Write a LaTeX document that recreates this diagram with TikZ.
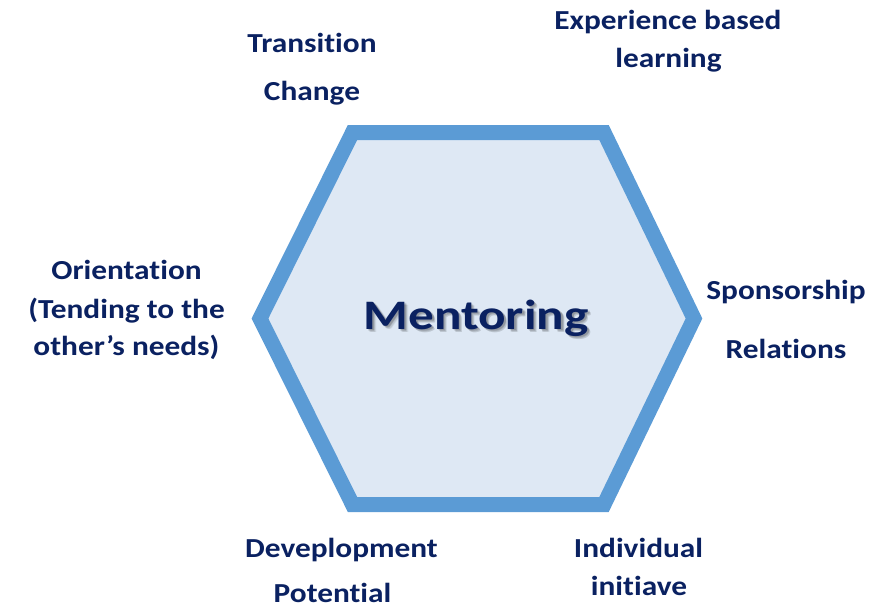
\documentclass[tikz,border=0pt]{standalone}
\usepackage{fontspec}
\setmainfont{Carlito}
\newfontfamily\labelfont{Carlito}[FakeStretch=1.14,Ligatures=NoCommon]
\newfontfamily\titlefont{Carlito}[FakeStretch=1.22,Ligatures=NoCommon]
\definecolor{navy}{HTML}{0A2161}
\definecolor{hexline}{HTML}{5B9BD5}
\definecolor{hexfill}{HTML}{DEE8F4}
\begin{document}
\begin{tikzpicture}[x=1pt,y=-1pt,
  lbl/.style={anchor=base,inner sep=0pt,text=navy,font=\labelfont\fontsize{27.5}{33}\selectfont\bfseries},
  title/.style={anchor=base,inner sep=0pt,font=\titlefont\fontsize{42}{50}\selectfont\bfseries}]
\useasboundingbox (0,0) rectangle (894,605);
% hexagon frame
\draw[line width=15pt,line join=miter,draw=hexline,fill=hexfill]
  (260,318.5) -- (352.5,132.5) -- (604,132.5) -- (694,318.5) -- (604,504.5) -- (352.5,504.5) -- cycle;
% centre title with a soft drop shadow
\foreach \d/\o in {3.6/0.06,3.0/0.09,2.4/0.12,1.8/0.12} {
  \node[title,text=black,opacity=\o] at (476+\d,329+\d) {Mentoring};
}
\node[title,text=navy] (mentoring) at (476,329) {Mentoring};
% surrounding labels
\node[lbl] (transition) at (312,52.5) {Transition};
\node[lbl] (change) at (312,100) {Change};
\node[lbl] (experience) at (668,29.5) {Experience based};
\node[lbl] (learning) at (668.5,67.5) {learning};
\node[lbl] (sponsorship) at (786,299.5) {Sponsorship};
\node[lbl] (relations) at (786,358.5) {Relations};
\node[lbl] (orientation) at (126.5,279) {Orientation};
\node[lbl] (tending) at (126.5,318.5) {(Tending to the};
\node[lbl] (needs) at (126.5,355) {other’s needs)};
\node[lbl] (development) at (341.5,557.5) {Deveplopment};
\node[lbl] (potential) at (332.5,602) {Potential};
\node[lbl] (individual) at (638.5,557.5) {Individual};
\node[lbl] (initiave) at (639,595.5) {initiave};
\end{tikzpicture}
\end{document}
